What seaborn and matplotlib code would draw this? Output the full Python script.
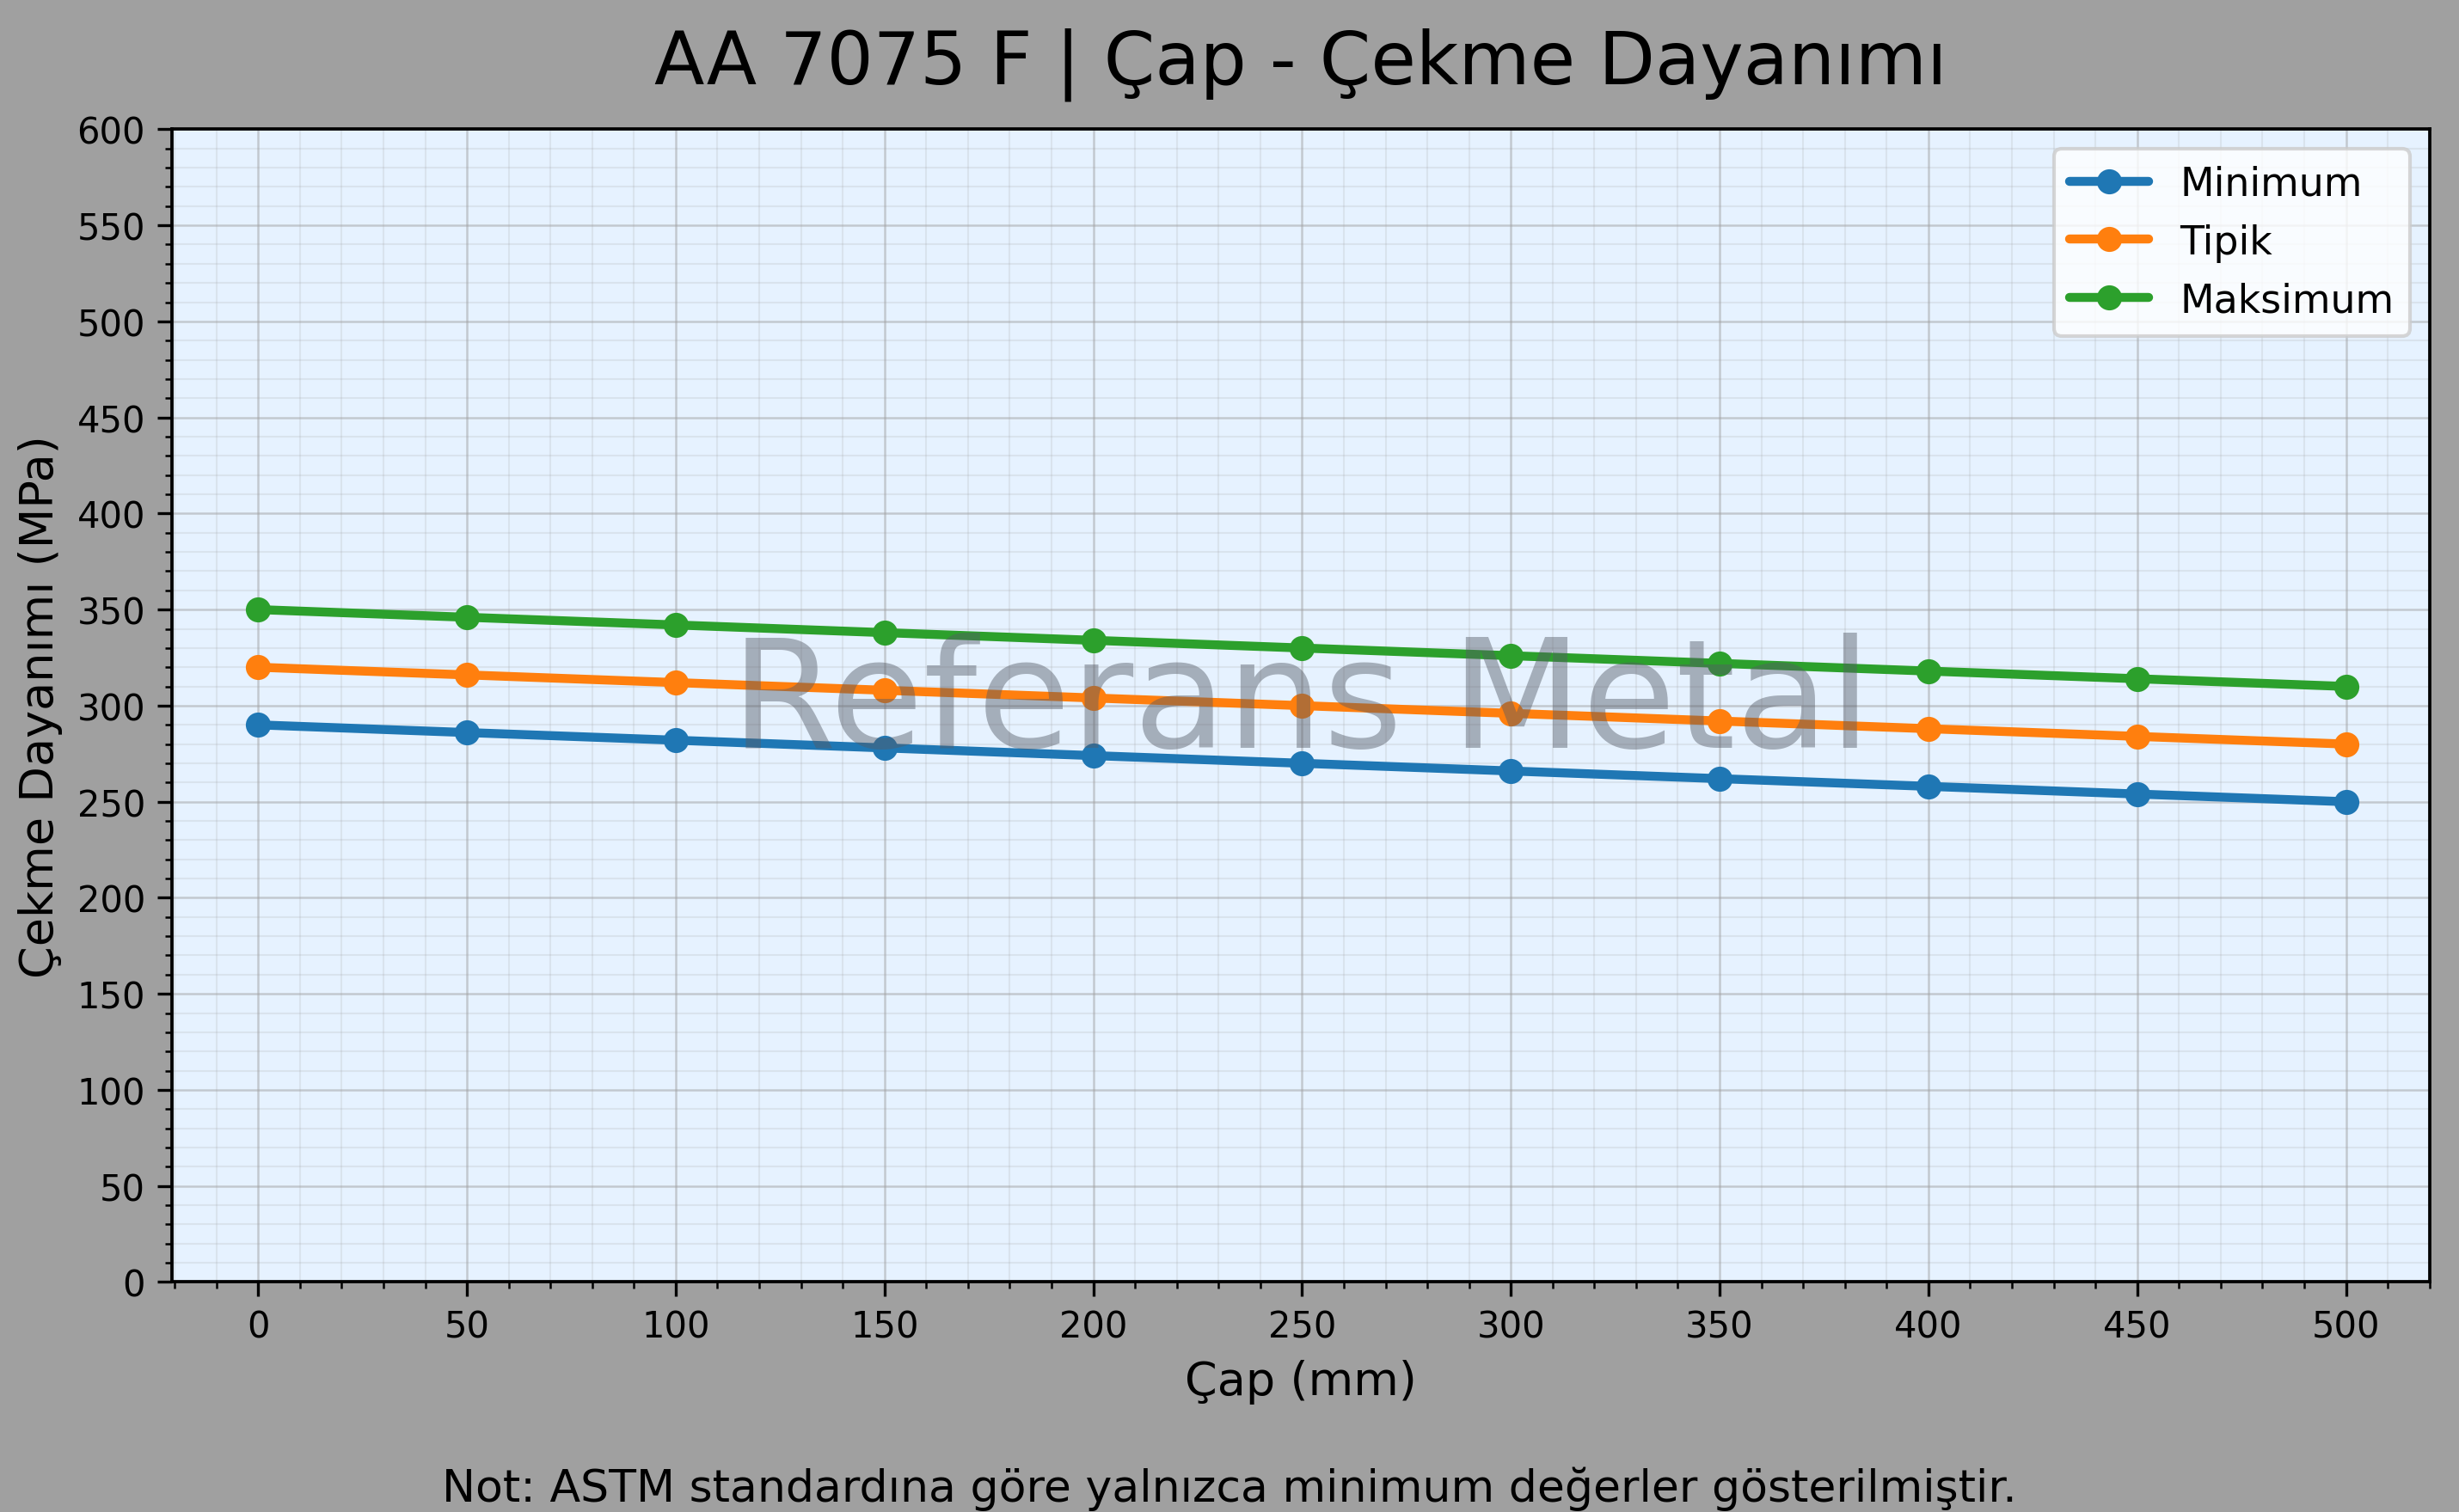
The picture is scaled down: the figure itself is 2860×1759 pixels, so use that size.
import matplotlib
matplotlib.use("Agg")
import matplotlib.pyplot as plt
from matplotlib.ticker import MultipleLocator
import seaborn as sns
import pandas as pd

# Data
diameters = [0, 50, 100, 150, 200, 250, 300, 350, 400, 450, 500]
minimum = [290, 286, 282, 278, 274, 270, 266, 262, 258, 254, 250]
typical = [320, 316, 312, 308, 304, 300, 296, 292, 288, 284, 280]
maximum = [350, 346, 342, 338, 334, 330, 326, 322, 318, 314, 310]
series_names = ["Minimum", "Tipik", "Maksimum"]

title = "AA 7075 F | Çap - Çekme Dayanımı"
xlabel = "Çap (mm)"
ylabel = "Çekme Dayanımı (MPa)"
note = "Not: ASTM standardına göre yalnızca minimum değerler gösterilmiştir."
watermark = "Referans Metal"

df = pd.DataFrame({
    "Çap": diameters * 3,
    "Değer": minimum + typical + maximum,
    "Seri": [s for s in series_names for _ in diameters],
})

sns.set_style("ticks")
plt.rcParams['font.family'] = ['DejaVu Sans']
plt.rcParams['text.color'] = 'black'
plt.rcParams['axes.labelcolor'] = 'black'
plt.rcParams['xtick.color'] = 'black'
plt.rcParams['ytick.color'] = 'black'

fig, ax = plt.subplots(figsize=(2860 / 300, 1760 / 300), dpi=300)
fig.patch.set_facecolor("#a0a0a0")
ax.set_facecolor("#e6f2ff")

palette = {"Minimum": "#1f77b4", "Tipik": "#ff7f0e", "Maksimum": "#2ca02c"}
sns.lineplot(data=df, x="Çap", y="Değer", hue="Seri", palette=palette,
             marker="o", markersize=7, markeredgewidth=0, linewidth=2.5,
             ax=ax)

ax.set_xlim(-20.6, 520)
ax.set_ylim(0, 600)
ax.xaxis.set_major_locator(MultipleLocator(50))
ax.xaxis.set_minor_locator(MultipleLocator(10))
ax.yaxis.set_major_locator(MultipleLocator(50))
ax.yaxis.set_minor_locator(MultipleLocator(10))
ax.tick_params(axis='both', which='major', labelsize=10, length=4, width=0.8,
               color='black', labelcolor='black')
ax.tick_params(axis='both', which='minor', length=2, width=0.6, color='black')

ax.grid(True, which='major', color='#a0a0a0', alpha=0.5, linewidth=0.6)
ax.grid(True, which='minor', color='#a0a0a0', alpha=0.18, linewidth=0.5)
ax.set_axisbelow(True)
for sp in ax.spines.values():
    sp.set_color('black')
    sp.set_linewidth(0.9)

ax.set_title(title, fontsize=20.5, pad=13, color='black')
ax.set_xlabel(xlabel, fontsize=13)
ax.set_ylabel(ylabel, fontsize=13)

leg = ax.legend(loc='upper right', fontsize=11, framealpha=0.8)
leg.set_title(None)
for t in leg.get_texts():
    t.set_color('black')

ax.text(0.5, 0.5, watermark, transform=ax.transAxes, fontsize=42.5,
        color='#555b66', alpha=0.45, ha='center', va='center', zorder=10)

fig.text(0.5, 0.016, note, ha='center', va='center', fontsize=12.5)

plt.subplots_adjust(left=0.070, right=0.988, top=0.914, bottom=0.152)
plt.savefig("out.png", dpi=300, facecolor=fig.get_facecolor())
